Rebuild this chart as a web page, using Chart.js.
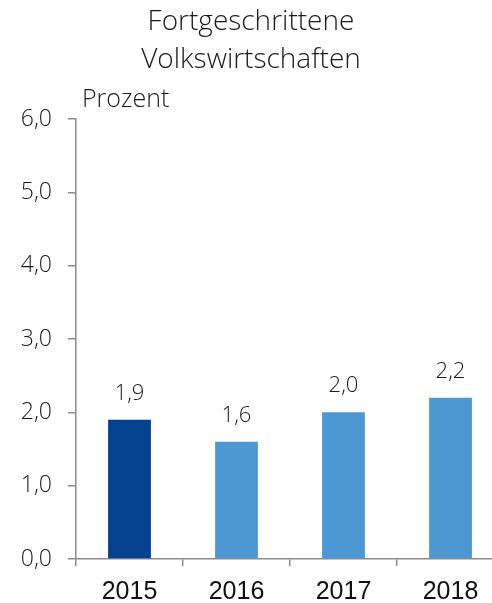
<!DOCTYPE html>
<html>
<head>
<meta charset="utf-8">
<script src="https://cdn.jsdelivr.net/npm/chart.js@4"></script>
<style>
  html, body { margin: 0; padding: 0; background: #fff; overflow: hidden; }
  #wrap { width: 492px; height: 603px; overflow: hidden; }
</style>
</head>
<body>
<div id="wrap"><canvas id="chart" width="504" height="603"></canvas></div>
<script>
// --- data ---
const years = ['2015', '2016', '2017', '2018'];
const growth = [1.9, 1.6, 2.0, 2.2];
const barColors = ['#02428f', '#4d97d3', '#4d97d3', '#4d97d3'];
const titleLines = ['Fortgeschrittene', 'Volkswirtschaften'];
const unitLabel = 'Prozent';

const FONT = '"Open Sans", "Noto Sans", sans-serif';
const AXIS_GREY = '#8c8c8c';
const fmt = v => v.toFixed(1).replace('.', ',');

// title, unit label and value labels drawn by hand
const textPlugin = {
    id: 'texts',
    afterDraw(chart) {
        const ctx = chart.ctx;
        ctx.save();
        ctx.fillStyle = '#1a1a1a';
        ctx.textAlign = 'center';
        ctx.textBaseline = 'alphabetic';
        ctx.font = '300 28px ' + FONT;
        ctx.fillText(titleLines[0], 251, 30);
        ctx.fillText(titleLines[1], 251, 68);

        ctx.textAlign = 'left';
        ctx.font = '300 25px ' + FONT;
        ctx.fillText(unitLabel, 82, 107);

        ctx.textAlign = 'center';
        ctx.font = '300 22px ' + FONT;
        const meta = chart.getDatasetMeta(0);
        meta.data.forEach((bar, i) => {
            ctx.fillText(fmt(growth[i]), bar.x, bar.y - 20);
        });
        ctx.restore();
    }
};

new Chart(document.getElementById('chart'), {
    type: 'bar',
    data: {
        labels: years,
        datasets: [{
            data: growth,
            backgroundColor: barColors,
            categoryPercentage: 1,
            barPercentage: 0.4
        }]
    },
    options: {
        responsive: false,
        animation: false,
        layout: { padding: { top: 119, right: 0, bottom: 0, left: 0 } },
        plugins: {
            legend: { display: false },
            tooltip: { enabled: false }
        },
        scales: {
            x: {
                grid: {
                    offset: true,
                    drawOnChartArea: false,
                    drawTicks: true,
                    tickLength: 7,
                    color: AXIS_GREY,
                    lineWidth: 1.5
                },
                border: { color: AXIS_GREY, width: 1.5 },
                ticks: {
                    color: '#111',
                    padding: 11,
                    font: { family: 'Liberation Sans, Arial, sans-serif', size: 25 }
                },
                afterFit(scale) { scale.height = 44; }
            },
            y: {
                min: 0,
                max: 6,
                grid: {
                    drawOnChartArea: false,
                    drawTicks: true,
                    tickLength: 8,
                    color: AXIS_GREY,
                    lineWidth: 1.5
                },
                border: { color: AXIS_GREY, width: 1.5 },
                ticks: {
                    stepSize: 1,
                    color: '#1a1a1a',
                    padding: 16,
                    font: { family: FONT, size: 23, weight: '300' },
                    callback: v => fmt(v)
                },
                afterFit(scale) { scale.width = 76; }
            }
        }
    },
    plugins: [textPlugin]
});
</script>
</body>
</html>
